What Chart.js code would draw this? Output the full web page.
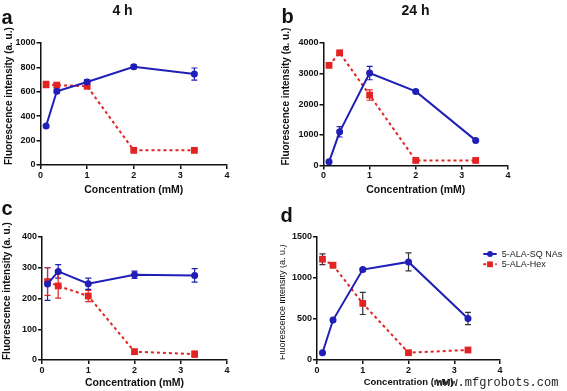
<!DOCTYPE html>
<html><head><meta charset="utf-8">
<script src="https://cdn.jsdelivr.net/npm/chart.js@4.4.0/dist/chart.umd.min.js"></script>
<style>
html,body{margin:0;padding:0;background:#fff;}
#wrap{position:relative;width:567px;height:391px;overflow:hidden;background:#fff;}
canvas{position:absolute;}
</style></head><body>
<div id="wrap">
<canvas id="pa" style="left:0px;top:0px;width:280px;height:200px" width="280" height="200"></canvas>
<canvas id="pb" style="left:280px;top:0px;width:287px;height:200px" width="287" height="200"></canvas>
<canvas id="pc" style="left:0px;top:195px;width:280px;height:196px" width="280" height="196"></canvas>
<canvas id="pd" style="left:280px;top:195px;width:287px;height:196px" width="287" height="196"></canvas>
</div>
<script>
// ---- data ----
const concentrations = [0.12, 0.35, 1, 2, 3.3];
const seriesNames = ['5-ALA-SQ NAs', '5-ALA-Hex'];

const a4hSQ = [320, 605, 680, 805, 745];
const a4hSQErr = [10, 15, 20, 15, 50];
const a4hHex = [660, 655, 645, 120, 120];
const a4hHexErr = [25, 20, 10, 8, 8];

const b24hSQ = [120, 1100, 3020, 2420, 820];
const b24hSQErr = [50, 170, 220, 40, 30];
const b24hHex = [3270, 3680, 2300, 165, 165];
const b24hHexErr = [40, 40, 170, 30, 30];

const cSQ = [247, 288, 248, 277, 275];
const cSQErr = [53, 22, 18, 12, 22];
const cHex = [255, 241, 208, 27, 19];
const cHexErr = [45, 40, 18, 8, 10];

const dSQ = [89, 487, 1103, 1196, 507];
const dSQErr = [10, 15, 15, 110, 75];
const dHex = [1229, 1156, 690, 89, 122];
const dHexErr = [65, 30, 135, 10, 10];

const xTicksMax = 4;
const yMaxA = 1000, yStepA = 200;
const yMaxB = 4000, yStepB = 1000;
const yMaxC = 400, yStepC = 100;
const yMaxD = 1500, yStepD = 500;

const xTitle = 'Concentration (mM)';
const yTitle = 'Fluorescence intensity (a. u.)';

// ---- styling ----
const FAM = '"Liberation Sans", Arial, Helvetica, sans-serif';
const BLUE = '#1f1fb8';
const RED = '#e32222';
const INK = '#111';

const errorBars = {
  id: 'errorBars',
  beforeDatasetsDraw(chart) {
    const ctx = chart.ctx, xs = chart.scales.x, ys = chart.scales.y;
    chart.data.datasets.forEach(ds => {
      if (!ds.errors) return;
      ctx.save();
      ctx.strokeStyle = ds.errorColor || ds.borderColor;
      ctx.lineWidth = 1.2;
      ds.data.forEach((p, i) => {
        const e = ds.errors[i];
        const x = xs.getPixelForValue(p.x);
        const y1 = ys.getPixelForValue(p.y + e);
        const y2 = ys.getPixelForValue(p.y - e);
        ctx.beginPath();
        ctx.moveTo(x, y1); ctx.lineTo(x, y2);
        ctx.moveTo(x - 3, y1); ctx.lineTo(x + 3, y1);
        ctx.moveTo(x - 3, y2); ctx.lineTo(x + 3, y2);
        ctx.stroke();
      });
      ctx.restore();
    });
  }
};

const overlayTexts = {
  id: 'overlayTexts',
  afterDraw(chart, args, opts) {
    const ctx = chart.ctx;
    (opts.items || []).forEach(t => {
      ctx.save();
      ctx.font = t.font;
      ctx.fillStyle = t.color || INK;
      ctx.textAlign = t.align || 'left';
      ctx.textBaseline = 'alphabetic';
      ctx.fillText(t.text, t.x, t.y);
      ctx.restore();
    });
    if (opts.legend) {
      const L = opts.legend;
      chart.data.datasets.forEach((ds, i) => {
        const y = L.y + i * L.gap;
        ctx.save();
        ctx.strokeStyle = ds.borderColor;
        ctx.lineWidth = 2;
        ctx.setLineDash(ds.borderDash || []);
        ctx.beginPath(); ctx.moveTo(L.x, y); ctx.lineTo(L.x + L.len, y); ctx.stroke();
        ctx.setLineDash([]);
        ctx.fillStyle = ds.pointBackgroundColor;
        Chart.helpers.drawPoint(ctx, {pointStyle: ds.pointStyle, radius: ds.pointRadius * 0.85, rotation: 0, borderWidth: 0}, L.x + L.len / 2, y);
        ctx.fillStyle = '#222';
        ctx.font = L.font;
        ctx.textBaseline = 'middle';
        ctx.fillText(ds.label, L.x + L.len + 5, y + 0.5);
        ctx.restore();
      });
    }
    if (opts.after) {
      const t = opts.after;
      ctx.save(); ctx.font = t.font; ctx.fillStyle = t.color; ctx.fillText(t.text, t.x, t.y); ctx.restore();
    }
  }
};

function pts(vals) { return vals.map((v, i) => ({x: concentrations[i], y: v})); }
const plainNum = v => String(v);

function makePanel(id, g, yMax, yStep, sq, sqErr, hex, hexErr, o) {
  const errColSQ = o.errColor || BLUE;
  const errColHex = o.errColor || RED;
  return new Chart(document.getElementById(id), {
    type: 'line',
    data: {
      datasets: [
        {label: seriesNames[0], data: pts(sq), errors: sqErr, errorColor: errColSQ,
         borderColor: BLUE, backgroundColor: BLUE, pointBackgroundColor: BLUE, pointBorderColor: BLUE,
         borderWidth: 2, pointStyle: 'circle', pointRadius: 3.5, pointBorderWidth: 0, tension: 0, clip: false},
        {label: seriesNames[1], data: pts(hex), errors: hexErr, errorColor: errColHex,
         borderColor: RED, backgroundColor: RED, pointBackgroundColor: RED, pointBorderColor: RED,
         borderWidth: 2, borderDash: [3, 3], pointStyle: 'rect', pointRadius: 4.8, pointBorderWidth: 0, tension: 0, clip: false}
      ]
    },
    options: {
      responsive: false, animation: false, devicePixelRatio: 1,
      layout: {padding: {left: 0, top: g.T, right: g.w - g.R, bottom: 0}},
      plugins: {legend: {display: false}, tooltip: {enabled: false}, overlayTexts: o.texts},
      scales: {
        x: {
          type: 'linear', min: 0, max: xTicksMax,
          ticks: {stepSize: 1, color: INK, font: {family: FAM, size: 9, weight: 'bold'}, padding: 1, maxRotation: 0, autoSkip: false, callback: plainNum},
          grid: {drawOnChartArea: false, drawTicks: true, tickLength: 4, color: INK, lineWidth: 1.5},
          border: {display: true, color: INK, width: 1.5},
          title: {display: true, text: xTitle, color: INK, font: {family: FAM, size: o.xtSize || 10.5, weight: 'bold'}, padding: {top: 0, bottom: o.xtPad}},
          afterFit(s) { s.height = g.h - g.B; }
        },
        y: {
          type: 'linear', min: 0, max: yMax,
          ticks: {stepSize: yStep, color: INK, font: {family: FAM, size: 9, weight: 'bold'}, padding: 1, callback: plainNum},
          grid: {drawOnChartArea: false, drawTicks: true, tickLength: 4, color: INK, lineWidth: 1.5},
          border: {display: true, color: INK, width: 1.5},
          title: {display: true, text: yTitle, align: 'start', color: INK, font: {family: FAM, size: o.ytSize || 10, weight: o.ytWeight || 'bold'}, padding: {top: o.ytPad, bottom: 0}},
          afterFit(s) { s.width = g.L; }
        }
      }
    },
    plugins: [errorBars, overlayTexts]
  });
}

makePanel('pa', {w: 280, h: 200, L: 40.5, T: 43, R: 227, B: 165}, yMaxA, yStepA, a4hSQ, a4hSQErr, a4hHex, a4hHexErr, {
  xtPad: 3.7, ytPad: 3.5,
  texts: {items: [
    {text: 'a', x: 1.5, y: 23.5, font: 'bold 20px ' + FAM},
    {text: '4 h', x: 122.5, y: 15, font: 'bold 14px ' + FAM, align: 'center'}
  ]}
});
makePanel('pb', {w: 287, h: 200, L: 43.5, T: 43, R: 228, B: 165.5}, yMaxB, yStepB, b24hSQ, b24hSQErr, b24hHex, b24hHexErr, {
  xtPad: 3.7, ytPad: 0,
  texts: {items: [
    {text: 'b', x: 1.5, y: 23.3, font: 'bold 20px ' + FAM},
    {text: '24 h', x: 135.5, y: 15, font: 'bold 14px ' + FAM, align: 'center'}
  ]}
});
makePanel('pc', {w: 280, h: 196, L: 42, T: 42, R: 227, B: 165}, yMaxC, yStepC, cSQ, cSQErr, cHex, cHexErr, {
  xtPad: 1.7, ytPad: 1.5,
  texts: {items: [
    {text: 'c', x: 1.5, y: 20, font: 'bold 20px ' + FAM}
  ]}
});
makePanel('pd', {w: 287, h: 196, L: 37, T: 42, R: 220, B: 165}, yMaxD, yStepD, dSQ, dSQErr, dHex, dHexErr, {
  xtPad: 2.6, xtSize: 9.5, ytPad: -3, ytSize: 9, ytWeight: 'normal', errColor: '#333',
  texts: {
    items: [{text: 'd', x: 0.5, y: 26.7, font: 'bold 20px ' + FAM}],
    legend: {x: 203.3, y: 59, gap: 10.3, len: 13.4, font: '9px ' + FAM},
    after: {text: 'www.mfgrobots.com', x: 156, y: 191, font: '12px "Liberation Mono", "Courier New", monospace', color: '#222'}
  }
});
</script>
</body></html>
